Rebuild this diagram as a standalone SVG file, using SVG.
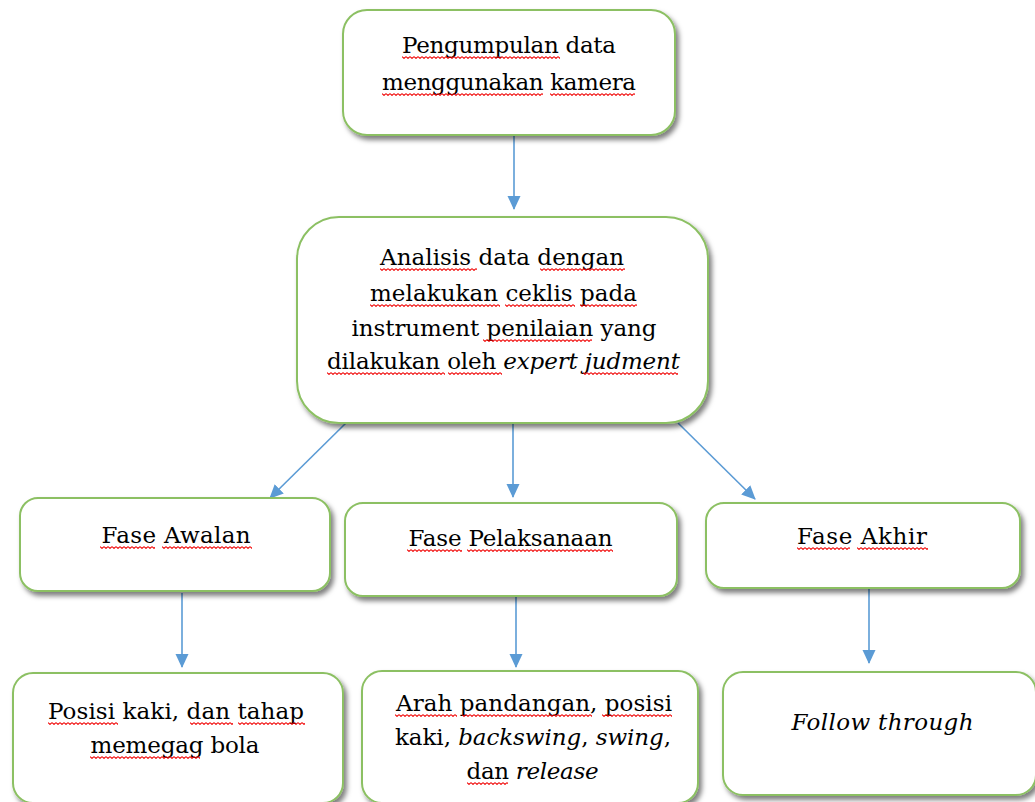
<svg xmlns="http://www.w3.org/2000/svg" width="1035" height="802" viewBox="0 0 1035 802">
<style>
.box{fill:#fff;stroke:#8cc063;stroke-width:2;filter:url(#sh)}
.t{font-family:"DejaVu Serif","Liberation Serif",serif;font-size:23px;fill:#000;text-anchor:middle}
.i{font-style:italic}
.c{stroke:#5b9bd5;stroke-width:1.6;fill:none;marker-end:url(#ah)}
.sq{fill:url(#sq)}
</style>
<defs>
<filter id="sh" x="-10%" y="-10%" width="130%" height="140%">
<feDropShadow dx="3" dy="4" stdDeviation="2.5" flood-color="#000" flood-opacity="0.5"/>
</filter>
<marker id="ah" markerWidth="14" markerHeight="14" viewBox="0 0 14 14" refX="13" refY="7" orient="auto" markerUnits="userSpaceOnUse">
<path d="M0,0.5 L14,7 L0,13.5 Z" fill="#5b9bd5"/>
</marker>
<pattern id="sq" width="4" height="3" patternUnits="userSpaceOnUse">
<polyline points="0,0.6 2,2.4 4,0.6" fill="none" stroke="#f00000" stroke-width="1.1"/>
</pattern>
</defs>

<g id="connectors">
<line class="c" x1="514" y1="136" x2="514" y2="209"/>
<line class="c" x1="346" y1="423" x2="270" y2="498"/>
<line class="c" x1="513" y1="424" x2="513" y2="497"/>
<line class="c" x1="678" y1="423" x2="755" y2="499"/>
<line class="c" x1="182" y1="593" x2="182" y2="667"/>
<line class="c" x1="516" y1="597" x2="516" y2="667"/>
<line class="c" x1="869" y1="589" x2="869" y2="663"/>
</g>

<g id="n1">
<rect class="box" x="343" y="10" width="332" height="125" rx="24"/>
<text class="t" x="509" y="53" textLength="214">Pengumpulan data</text>
<text class="t" x="509" y="90" textLength="254">menggunakan kamera</text>
<rect class="sq" transform="translate(402,56)" width="158" height="3"/>
<rect class="sq" transform="translate(382,93)" width="161" height="3"/>
<rect class="sq" transform="translate(550,93)" width="85" height="3"/>
</g>

<g id="n2">
<rect class="box" x="297" y="217" width="411" height="206" rx="42"/>
<text class="t" x="502" y="265" textLength="244">Analisis data dengan</text>
<text class="t" x="503.5" y="301" textLength="267">melakukan ceklis pada</text>
<text class="t" x="504" y="336" textLength="305">instrument penilaian yang</text>
<text class="t" x="503.5" y="369" textLength="353">dilakukan oleh <tspan class="i">expert judment</tspan></text>
<rect class="sq" transform="translate(380,268)" width="97" height="3"/>
<rect class="sq" transform="translate(540,268)" width="85" height="3"/>
<rect class="sq" transform="translate(370,304)" width="130" height="3"/>
<rect class="sq" transform="translate(505,304)" width="70" height="3"/>
<rect class="sq" transform="translate(580,304)" width="57" height="3"/>
<rect class="sq" transform="translate(483,339)" width="109" height="3"/>
<rect class="sq" transform="translate(327,372)" width="118" height="3"/>
<rect class="sq" transform="translate(448,372)" width="54" height="3"/>
<rect class="sq" transform="translate(583,372)" width="95" height="3"/>
</g>

<g id="n3">
<rect class="box" x="20" y="498" width="310" height="93" rx="18"/>
<text class="t" x="176" y="543" textLength="149">Fase Awalan</text>
<rect class="sq" transform="translate(100,546)" width="55" height="3"/>
<rect class="sq" transform="translate(162,546)" width="90" height="3"/>
</g>

<g id="n4">
<rect class="box" x="345" y="503" width="332" height="93" rx="18"/>
<text class="t" x="510.5" y="546" textLength="204">Fase Pelaksanaan</text>
<rect class="sq" transform="translate(407,549)" width="55" height="3"/>
<rect class="sq" transform="translate(467,549)" width="146" height="3"/>
</g>

<g id="n5">
<rect class="box" x="706" y="503" width="314" height="85" rx="18"/>
<text class="t" x="862" y="544" textLength="130">Fase Akhir</text>
<rect class="sq" transform="translate(797,547)" width="53" height="3"/>
<rect class="sq" transform="translate(857,547)" width="71" height="3"/>
</g>

<g id="n6">
<rect class="box" x="13" y="673" width="330" height="130" rx="20"/>
<text class="t" x="176" y="719" textLength="256">Posisi kaki, dan tahap</text>
<text class="t" x="175" y="753" textLength="169">memegag bola</text>
<rect class="sq" transform="translate(48,722)" width="70" height="3"/>
<rect class="sq" transform="translate(190,722)" width="43" height="3"/>
<rect class="sq" transform="translate(238,722)" width="67" height="3"/>
<rect class="sq" transform="translate(90,756)" width="110" height="3"/>
</g>

<g id="n7">
<rect class="box" x="362" y="671" width="336" height="132" rx="20"/>
<text class="t" x="534" y="711" textLength="276">Arah pandangan, posisi</text>
<text class="t" x="533" y="745" textLength="276">kaki, <tspan class="i">backswing</tspan>, <tspan class="i">swing</tspan>,</text>
<text class="t" x="532.5" y="779" textLength="132">dan <tspan class="i">release</tspan></text>
<rect class="sq" transform="translate(395,714)" width="62" height="3"/>
<rect class="sq" transform="translate(462,714)" width="130" height="3"/>
<rect class="sq" transform="translate(602,714)" width="70" height="3"/>
<rect class="sq" transform="translate(467,782)" width="41" height="3"/>
</g>

<g id="n8">
<rect class="box" x="723" y="672" width="313" height="123" rx="20"/>
<text class="t i" x="882.5" y="730" textLength="182">Follow through</text>
</g>
</svg>
